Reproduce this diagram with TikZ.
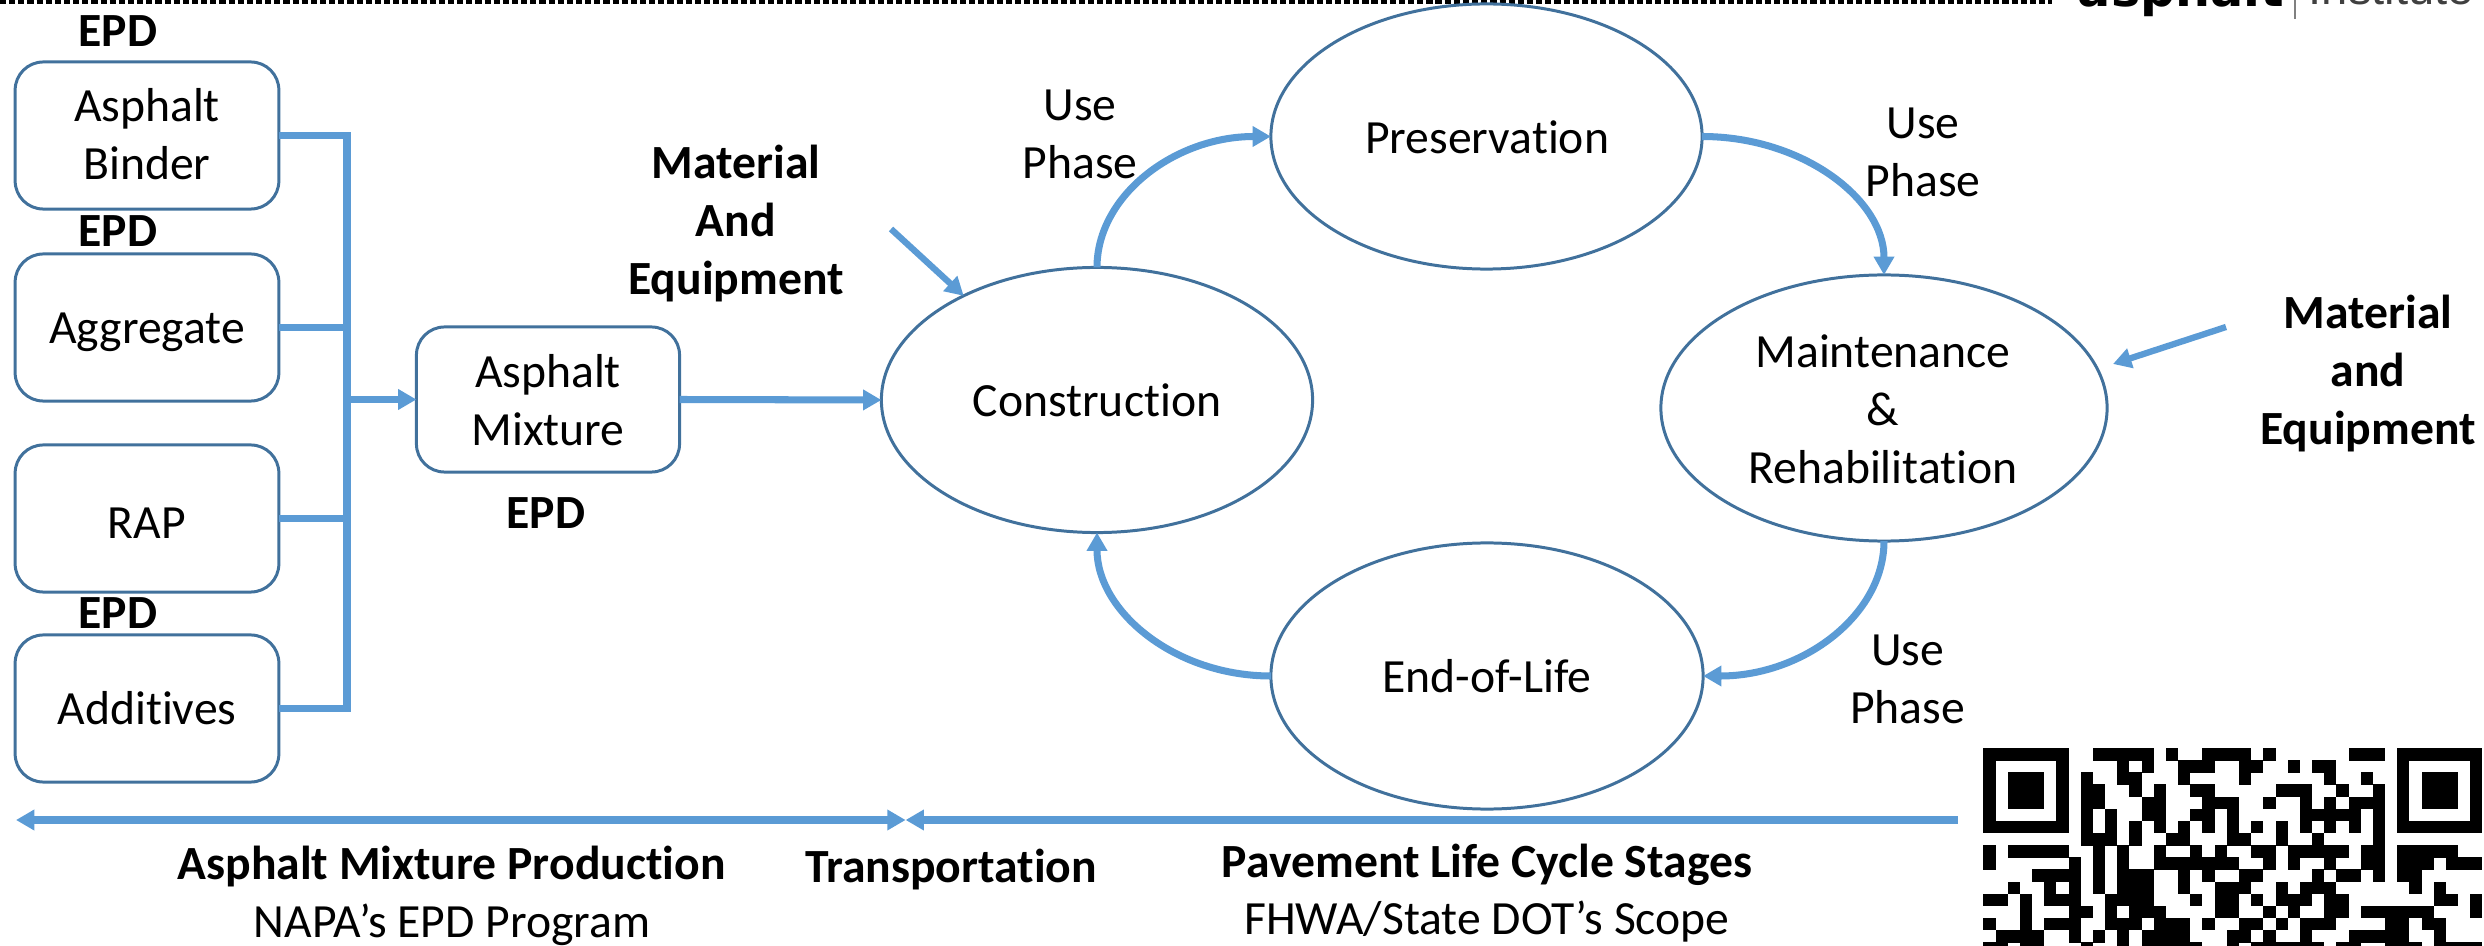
\documentclass[tikz,border=0pt]{standalone}
\usepackage{fontspec}
\setmainfont[Ligatures=NoCommon]{Carlito}
\newfontfamily\logobold{DejaVu Sans}
\newfontfamily\logolight{Liberation Sans}
\usetikzlibrary{arrows.meta,shapes.geometric}
\definecolor{edgeblue}{HTML}{41719C}
\definecolor{flowblue}{HTML}{5B9BD5}
\tikzset{
  x=0.01cm,y=-0.01cm,
  lab/.style={inner sep=0,outer sep=0,anchor=base,align=center,font=\fontsize{13.55}{16.5}\selectfont,text=black,yshift=-0.5pt},
  blab/.style={lab,font=\fontsize{13.55}{16.5}\selectfont\bfseries},
  roundbox/.style={draw=edgeblue,line width=0.85pt,rounded corners=8pt,inner sep=0,outer sep=0,anchor=center},
  stage/.style={ellipse,draw=edgeblue,line width=0.85pt,inner sep=0,outer sep=0,anchor=center},
  feed/.style={draw=flowblue,line width=2pt,line join=miter},
  flow/.style={draw=flowblue,line width=2pt,-{Triangle[length=5.2pt,width=5.6pt]}},
  curveflow/.style={draw=flowblue,line width=2pt,-{Triangle[length=5.2pt,width=5.6pt]}},
  span/.style={draw=flowblue,line width=2pt},
}
\newcommand\qrrow[2]{\foreach \a/\b in {#2}{\fill[black] (1983.4+12.17*\a,748.3+12.13*#1-0.2) rectangle (1983.4+12.17*\b+12.17,748.3+12.13*#1+12.13+0.2);}}
\begin{document}
\begin{tikzpicture}
\clip (0,0) rectangle (2484,946);
% top remnants
\draw[black,line width=1.15pt,dash pattern=on 1.75pt off 0.85pt] (0,2) -- (2052,2);
\node[inner sep=0,anchor=base east,font=\logobold\bfseries\fontsize{14}{14}\selectfont] (logoa) at (2285,7) {asphalt};
\node[inner sep=0,anchor=base west,font=\logolight\fontsize{13.4}{14}\selectfont,text=black!75] (logob) at (2308,4.5) {Institute};
\draw[black!50,line width=0.55pt] (2295,0) -- (2295,19);
% boxes
\node[roundbox,minimum width=263.6*0.2845pt,minimum height=147*0.2845pt] (b1) at (147,135.5) {};
\node[roundbox,minimum width=263.6*0.2845pt,minimum height=147*0.2845pt] (b2) at (147,327.5) {};
\node[roundbox,minimum width=263.6*0.2845pt,minimum height=147*0.2845pt] (b3) at (147,518.5) {};
\node[roundbox,minimum width=263.6*0.2845pt,minimum height=147*0.2845pt] (b4) at (147,708.5) {};
\node[roundbox,minimum width=263*0.2845pt,minimum height=145*0.2845pt] (mix) at (548,399.5) {};
\node[lab] (tb1) at (147,178) {Asphalt\\Binder};
\node[lab] (tb2) at (147,342) {Aggregate};
\node[lab] (tb3) at (147,537) {RAP};
\node[lab] (tb4) at (147,723) {Additives};
\node[lab] (tmix) at (548,444) {Asphalt\\Mixture};
\node[blab] (e1) at (118,45) {EPD};
\node[blab] (e2) at (118,245) {EPD};
\node[blab] (e3) at (118,627) {EPD};
\node[blab] (e4) at (546,527) {EPD};
% stages
\node[stage,minimum width=431*0.2845pt,minimum height=265*0.2845pt] (cons) at (1097,400) {};
\node[stage,minimum width=431*0.2845pt,minimum height=265*0.2845pt] (pres) at (1486.5,136.5) {};
\node[stage,minimum width=446*0.2845pt,minimum height=266*0.2845pt] (main) at (1884,408) {};
\node[stage,minimum width=432*0.2845pt,minimum height=266*0.2845pt] (eol) at (1487,676) {};
\node[lab] (tcons) at (1097,415) {Construction};
\node[lab] (tpres) at (1487,152) {Preservation};
\node[lab] (tmain) at (1883,482) {Maintenance\\\&\\Rehabilitation};
\node[lab] (teol) at (1487,691) {End-of-Life};
% feeders
\coordinate (bus1) at (347,135.5);
\coordinate (bus4) at (347,708.5);
\coordinate (bus) at (347,399.5);
\draw[feed] (b1.east) -- (bus1) -- (bus4) -- (b4.east);
\draw[feed] (b2.east) -- (b2.east -| bus);
\draw[feed] (b3.east) -- (b3.east -| bus);
\draw[flow] (bus) -- (mix.west);
\draw[flow] (mix.east) -- (cons.west);
% cycle
\draw[curveflow] (cons.north) .. controls +(0,-72) and +(-96,0) .. (pres.west);
\draw[curveflow] (pres.east) .. controls +(100,0) and +(0,-76) .. (main.north);
\draw[curveflow] (main.south) .. controls +(0,74) and +(100,0) .. (eol.east);
\draw[curveflow] (eol.west) .. controls +(-96,0) and +(0,79) .. (cons.south);
% material inputs
\coordinate (m1) at (891,229);
\coordinate (m2) at (2226,327);
\coordinate (m2t) at (2113,364);
\draw[flow,line width=1.8pt] (m1) -- (cons.142.4);
\draw[flow,line width=1.8pt] (m2) -- (m2t);
\node[blab] (mat1) at (736,293) {Material\\And\\Equipment};
\node[blab] (mat2) at (2368,443) {Material\\and\\Equipment};
\node[lab] (u1) at (1080,177) {Use\\Phase};
\node[lab] (u2) at (1923,195) {Use\\Phase};
\node[lab] (u3) at (1907.5,722) {Use\\Phase};
% bottom spans
\coordinate (s1) at (16,820);
\coordinate (s2) at (905.6,820);
\coordinate (s3) at (1958,820);
\draw[span,{Triangle[length=5.2pt,width=5.6pt]}-{Triangle[length=5.2pt,width=5.6pt]}] (s1) -- (s2);
\draw[span,{Triangle[length=5.2pt,width=5.6pt]}-] (s2) -- (s3);
\node[blab] (p1) at (451.5,878) {Asphalt Mixture Production};
\node[lab] (p2) at (452,936) {NAPA’s EPD Program};
\node[blab] (p3) at (951,881) {Transportation};
\node[blab] (p4) at (1487,876) {Pavement Life Cycle Stages};
\node[lab] (p5) at (1487,933) {FHWA/State DOT’s Scope};
% QR
\qrrow{0}{0/6,9/13,15/15,18/21,23/23,30/32,34/40}
\qrrow{1}{0/0,6/6,11/11,13/13,16/18,21/22,25/25,27/28,34/34,40/40}
\qrrow{2}{0/0,2/4,6/6,8/8,11/12,16/16,21/21,28/28,31/31,34/34,36/38,40/40}
\qrrow{3}{0/0,2/4,6/6,8/9,12/12,14/14,17/18,24/26,29/29,32/32,34/34,36/38,40/40}
\qrrow{4}{0/0,2/4,6/6,8/9,13/14,18/20,23/23,26/26,28/28,30/32,34/34,36/38,40/40}
\qrrow{5}{0/0,6/6,8/8,10/10,13/14,17/18,20/20,26/30,32/32,34/34,40/40}
\qrrow{6}{0/6,8/8,10/10,12/12,14/14,16/16,18/18,20/20,22/22,24/24,26/26,28/28,30/30,32/32,34/40}
\qrrow{7}{8/10,12/12,15/16,20/21,24/24,27/27,32/32}
\qrrow{8}{0/0,2/6,9/9,11/11,14/14,17/17,19/19,22/23,25/29,31/32,34/38}
\qrrow{9}{0/0,7/7,9/9,11/11,14/20,23/23,25/25,28/28,31/32,34/36,38/40}
\qrrow{10}{4/7,9/9,11/13,16/16,18/18,21/22,27/27,29/30,32/32,34/35}
\qrrow{11}{2/2,5/5,7/7,9/9,11/13,16/16,19/21,24/24,26/28,35/35,37/37}
\qrrow{12}{0/1,3/3,5/7,10/13,17/17,19/20,22/22,24/26,28/29,37/38,40/40}
\qrrow{13}{3/3,7/8,10/10,12/14,19/20,23/23,25/25,28/29,31/36,40/40}
\qrrow{14}{0/0,3/3,5/7,10/12,14/16,18/18,21/22,24/24,26/28,33/34,36/37}
\qrrow{15}{1/4,7/7,9/9,11/11,13/16,20/21,23/23,26/26,30/34,37/37}
\qrrow{16}{0/1,3/4,8/8,11/11,13/17,20/20,22/27,29/30,33/35,37/40}
\end{tikzpicture}
\end{document}
